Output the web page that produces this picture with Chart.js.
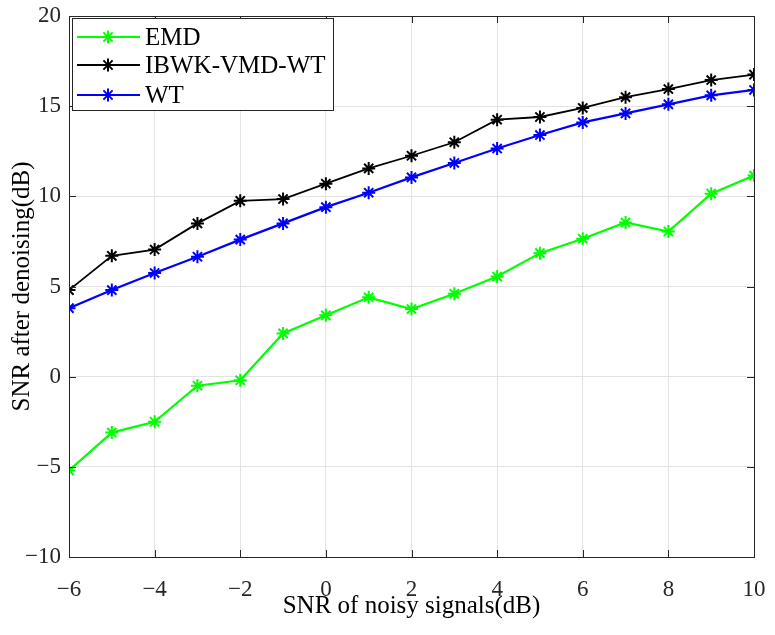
<!DOCTYPE html>
<html>
<head>
<meta charset="utf-8">
<script src="https://cdn.jsdelivr.net/npm/chart.js@4.4.0/dist/chart.umd.min.js"></script>
<style>
  html, body { margin: 0; padding: 0; background: #fff; }
  #wrap { width: 775px; height: 635px; }
</style>
</head>
<body>
<div id="wrap"><canvas id="chart1" width="775" height="635"></canvas></div>
<script>
// x values: SNR of the noisy input (dB)
var snrIn = [-6, -5, -4, -3, -2, -1, 0, 1, 2, 3, 4, 5, 6, 7, 8, 9, 10];

var emd  = [-5.2, -3.1, -2.5, -0.5, -0.2, 2.4, 3.4, 4.4, 3.75, 4.6, 5.55, 6.85, 7.65, 8.55, 8.05, 10.15, 11.15];
var ibwk = [4.8, 6.7, 7.05, 8.5, 9.75, 9.85, 10.7, 11.55, 12.25, 13.0, 14.25, 14.4, 14.9, 15.5, 15.95, 16.45, 16.75];
var wt   = [3.8, 4.8, 5.75, 6.65, 7.6, 8.5, 9.4, 10.2, 11.05, 11.85, 12.65, 13.4, 14.1, 14.6, 15.1, 15.6, 15.9];

var seriesNames  = ["EMD", "IBWK-VMD-WT", "WT"];
var seriesColors = ["#00ff00", "#000000", "#0000ff"];

var xTicks = [-6, -4, -2, 0, 2, 4, 6, 8, 10];
var yTicks = [-10, -5, 0, 5, 10, 15, 20];

var FONT = "'Liberation Serif', 'Times New Roman', serif";

function toPoints(ys) {
    return ys.map(function (v, i) { return { x: snrIn[i], y: v }; });
}

var allSeries = [emd, ibwk, wt];
var datasets = allSeries.map(function (ys, i) {
    return {
        label: seriesNames[i],
        data: toPoints(ys),
        borderColor: seriesColors[i],
        backgroundColor: seriesColors[i],
        pointBorderColor: seriesColors[i],
        borderWidth: i === 1 ? 1.8 : 2.2,
        pointStyle: "star",
        pointRadius: 6.5,
        pointBorderWidth: 2,
        tension: 0,
        fill: false
    };
});

// box around plot, inward ticks, and the legend in the top-left corner
var matlabFrame = {
    id: "matlabFrame",
    afterDraw: function (chart) {
        var ctx = chart.ctx;
        var a = chart.chartArea;
        var xs = chart.scales.x, ys = chart.scales.y;
        ctx.save();
        ctx.strokeStyle = "#262626";
        ctx.lineWidth = 1;
        ctx.beginPath();
        xTicks.forEach(function (t) {
            var px = Math.round(xs.getPixelForValue(t)) + 0.5;
            ctx.moveTo(px, a.bottom); ctx.lineTo(px, a.bottom - 7);
            ctx.moveTo(px, a.top); ctx.lineTo(px, a.top + 7);
        });
        yTicks.forEach(function (t) {
            var py = Math.round(ys.getPixelForValue(t)) + 0.5;
            ctx.moveTo(a.left, py); ctx.lineTo(a.left + 7, py);
            ctx.moveTo(a.right, py); ctx.lineTo(a.right - 7, py);
        });
        ctx.stroke();
        ctx.strokeRect(Math.round(a.left) + 0.5, Math.round(a.top) + 0.5,
                       Math.round(a.right - a.left), Math.round(a.bottom - a.top));

        // legend
        var lx = 72, ly = 18, lw = 261, lh = 92;
        ctx.fillStyle = "#fff";
        ctx.fillRect(lx, ly, lw, lh);
        ctx.strokeStyle = "#262626";
        ctx.strokeRect(lx + 0.5, ly + 0.5, lw, lh);
        var rows = [37, 65, 95];
        ctx.font = "25px " + FONT;
        ctx.textBaseline = "middle";
        ctx.textAlign = "left";
        seriesNames.forEach(function (name, i) {
            var cy = rows[i];
            ctx.strokeStyle = seriesColors[i];
            ctx.lineWidth = i === 1 ? 1.8 : 2.2;
            ctx.beginPath();
            ctx.moveTo(77, cy); ctx.lineTo(140, cy);
            ctx.stroke();
            ctx.lineWidth = 2;
            Chart.helpers.drawPoint(ctx, { pointStyle: "star", radius: 6.5, borderWidth: 2 }, 108, cy);
            ctx.fillStyle = "#000";
            ctx.fillText(name, 145, cy + 1);
        });
        ctx.restore();
    }
};

var ctx1 = document.getElementById("chart1").getContext("2d");
var chart1 = new Chart(ctx1, {
    type: "line",
    data: { datasets: datasets },
    options: {
        responsive: false,
        animation: false,
        layout: { padding: { top: 16, right: 21, left: 0, bottom: 0 } },
        plugins: {
            legend: { display: false },
            tooltip: { enabled: false }
        },
        scales: {
            x: {
                type: "linear",
                min: -6, max: 10,
                afterBuildTicks: function (s) { s.ticks = xTicks.map(function (v) { return { value: v }; }); },
                afterFit: function (s) { s.height = 78; s.paddingLeft = 0; s.paddingRight = 0; },
                grid: { color: "#e3e3e3", drawTicks: false },
                border: { color: "#262626" },
                ticks: {
                    padding: 19,
                    color: "#262626",
                    font: { family: FONT, size: 23 },
                    callback: function (v) { return v < 0 ? "\u2212" + Math.abs(v) : String(v); }
                },
                title: {
                    display: true,
                    text: "SNR of noisy signals(dB)",
                    color: "#000",
                    padding: { top: 0, bottom: 14 },
                    font: { family: FONT, size: 25 }
                }
            },
            y: {
                min: -10, max: 20,
                afterBuildTicks: function (s) { s.ticks = yTicks.map(function (v) { return { value: v }; }); },
                afterFit: function (s) { s.width = 69; s.paddingTop = 0; s.paddingBottom = 0; },
                grid: { color: "#e3e3e3", drawTicks: false },
                border: { color: "#262626" },
                ticks: {
                    padding: 8,
                    color: "#262626",
                    font: { family: FONT, size: 23 },
                    callback: function (v) { return v < 0 ? "\u2212" + Math.abs(v) : String(v); }
                },
                title: {
                    display: true,
                    text: "SNR after denoising(dB)",
                    color: "#000",
                    padding: { top: 7, bottom: 0 },
                    font: { family: FONT, size: 25 }
                }
            }
        }
    },
    plugins: [matlabFrame]
});
</script>
</body>
</html>
